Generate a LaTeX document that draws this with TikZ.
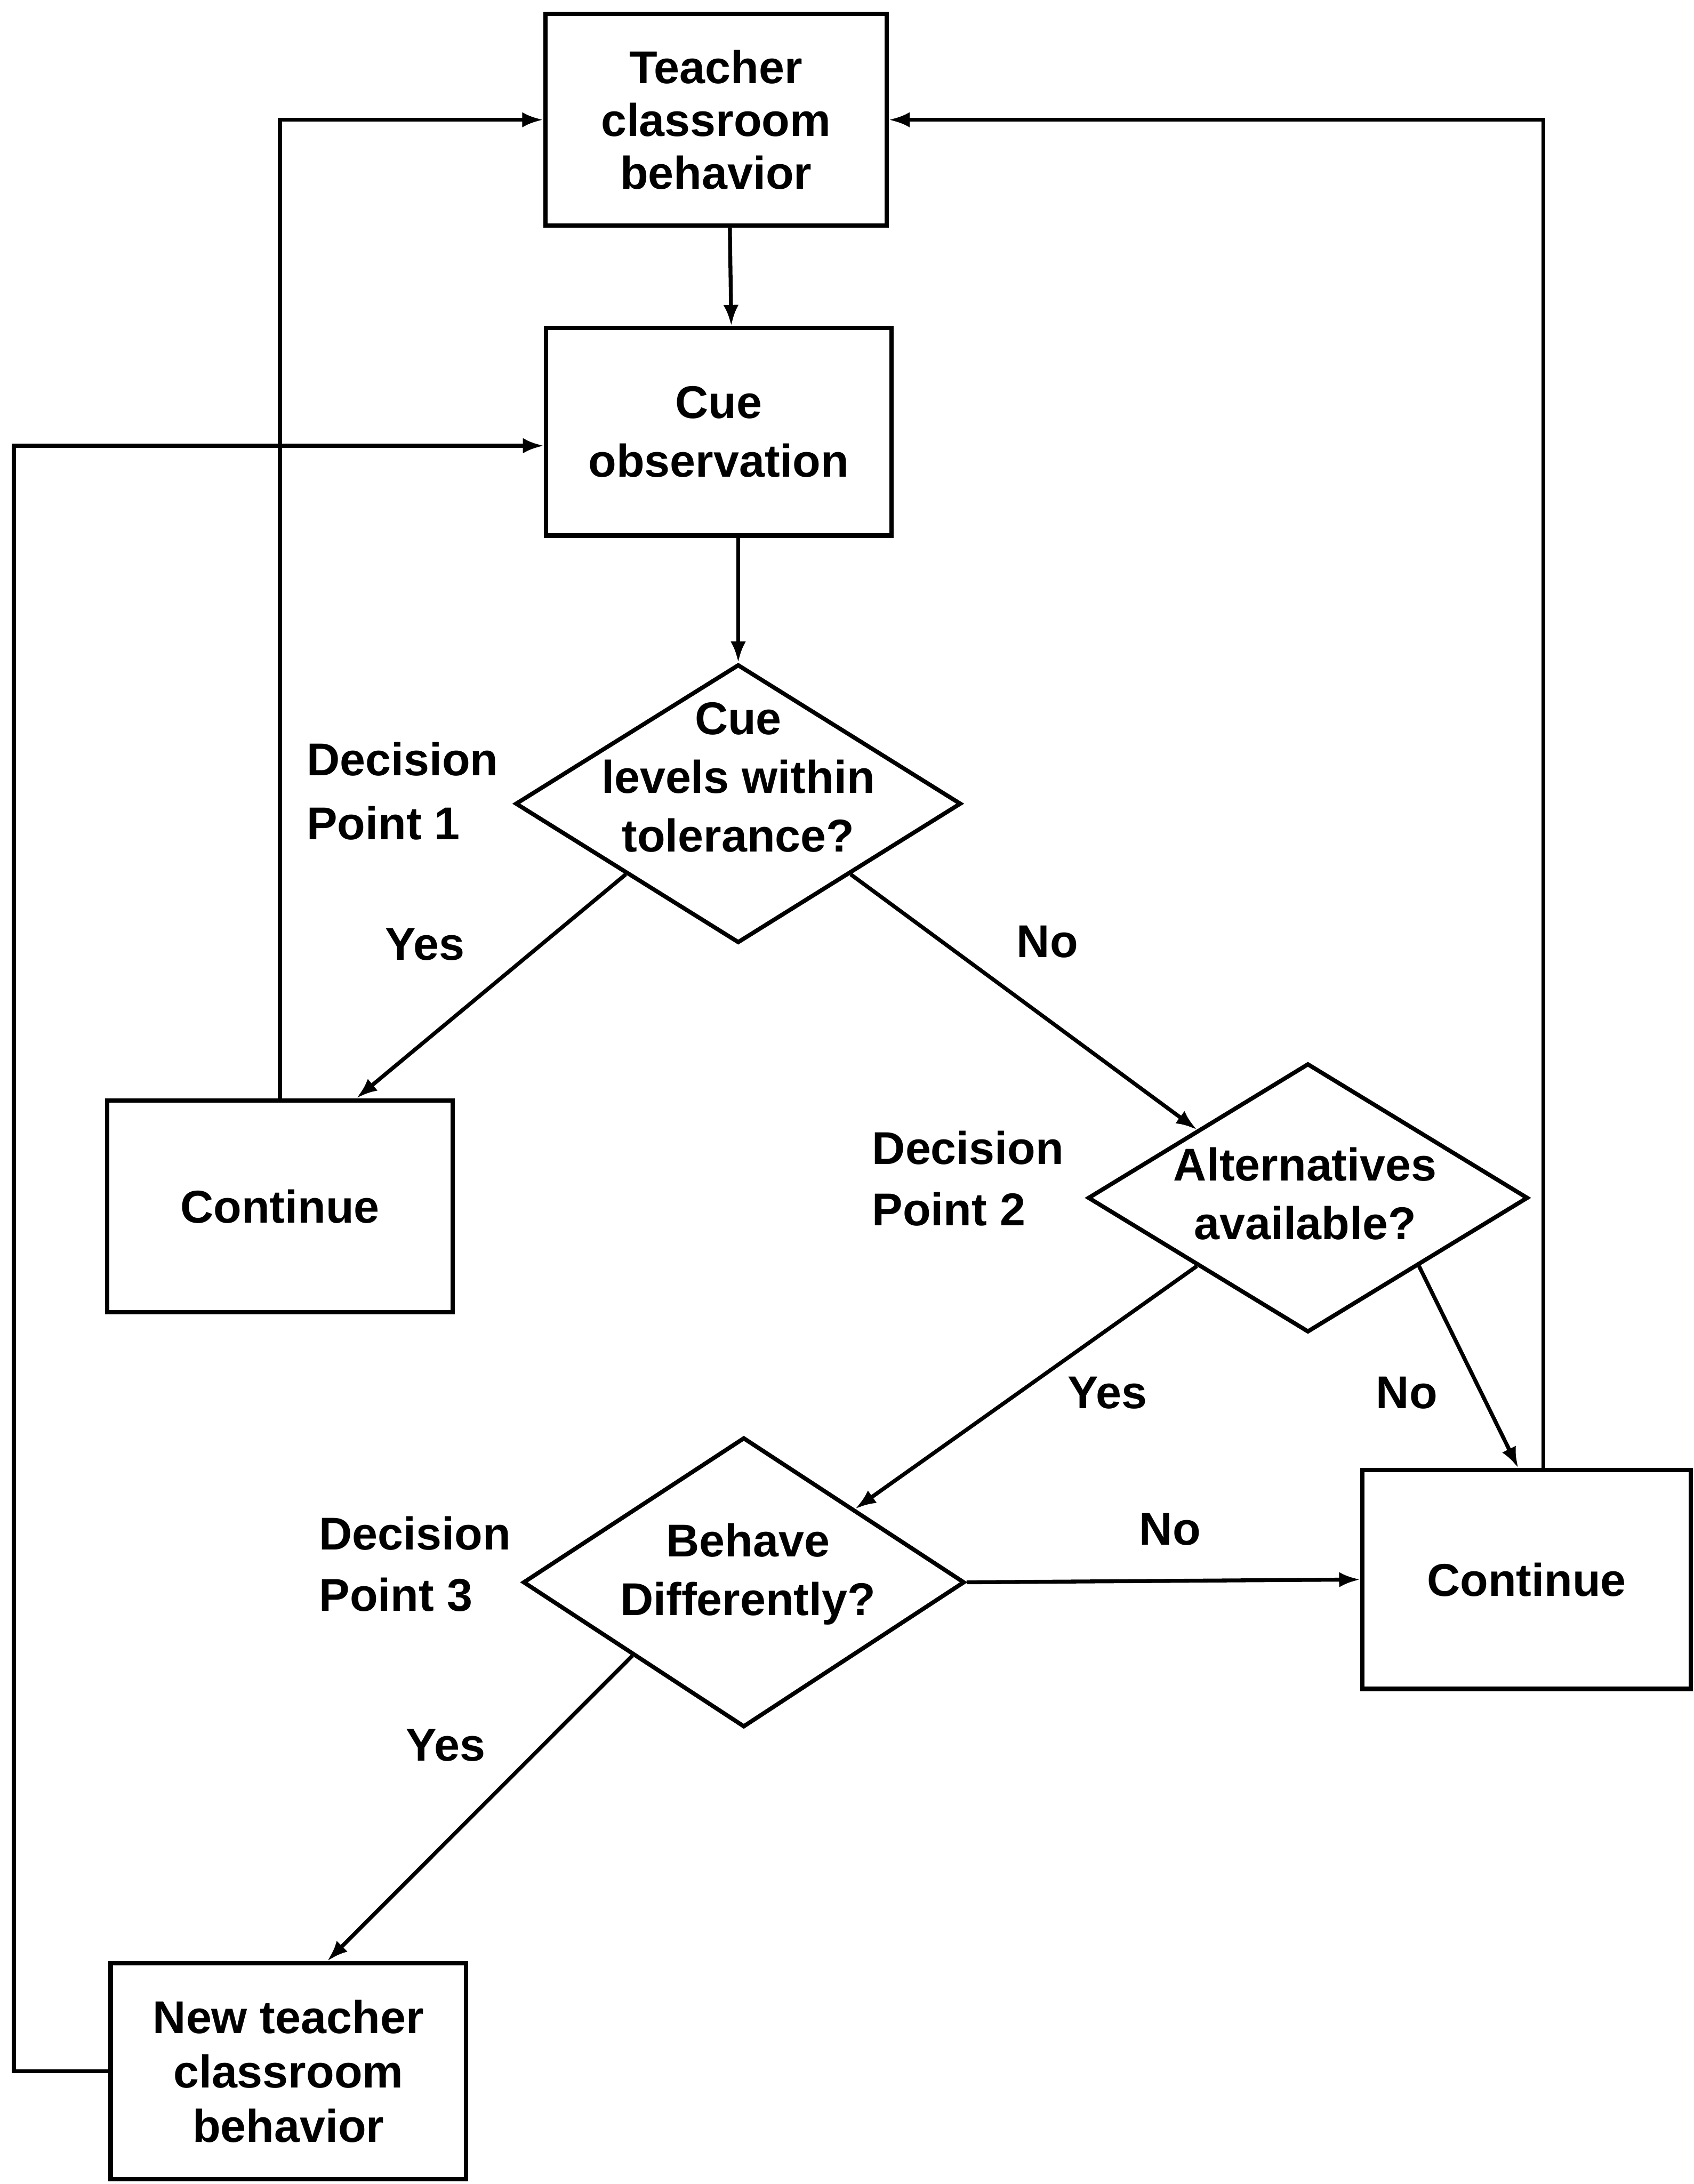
\documentclass[tikz,border=0pt]{standalone}
\usepackage{fontspec}
\setmainfont{Liberation Sans}
\usetikzlibrary{shapes.geometric, arrows.meta, positioning}

\begin{document}
\begin{tikzpicture}[x=1pt, y=-1pt,
  every node/.style={font=\bfseries\fontsize{33}{42}\selectfont, align=center},
  procbox/.style={draw, line width=3.2pt, minimum width=248pt, minimum height=152pt, inner sep=0pt},
  decision/.style={draw, diamond, line width=3pt, inner sep=0pt},
  dplabel/.style={anchor=west, align=left, inner sep=0pt},
  answer/.style={inner sep=0pt},
  flow/.style={line width=2.8pt, -{Latex[length=15pt, width=11pt]}},
  ]
  \useasboundingbox (0,0) rectangle (1216,1568);

  % Boxes
  \node[procbox, minimum width=245pt, font=\bfseries\fontsize{33}{38}\selectfont] (tb) at (514,86) {Teacher\\classroom\\behavior};
  \node[procbox, minimum height=149pt] (co) at (516,310) {Cue\\observation};
  \node[procbox] (c1) at (201,866) {Continue};
  \node[procbox, minimum width=236pt, minimum height=157pt] (c2) at (1096,1134) {Continue};
  \node[procbox, minimum width=255pt, minimum height=155pt, font=\bfseries\fontsize{33}{39}\selectfont] (nb) at (207,1487) {New teacher\\classroom\\behavior};

  % Decisions
  \node[decision, minimum width=320pt, minimum height=200pt] (d1) at (530,577) {};
  \node[answer] (d1txt) at (530,558) {Cue\\levels within\\tolerance?};
  \node[decision, minimum width=316pt, minimum height=193pt] (d2) at (939,860) {};
  \node[answer] (d2txt) at (937,857) {Alternatives\\available?};
  \node[decision, minimum width=317pt, minimum height=208pt] (d3) at (534,1136) {};
  \node[answer] (d3txt) at (537,1130) {Behave\\Differently?};

  % Labels
  \node[dplabel, font=\bfseries\fontsize{33}{46}\selectfont] (dp1) at (220,568) {Decision\\Point 1};
  \node[dplabel, font=\bfseries\fontsize{33}{44}\selectfont] (dp2) at (626,846) {Decision\\Point 2};
  \node[dplabel, font=\bfseries\fontsize{33}{44}\selectfont] (dp3) at (229,1123) {Decision\\Point 3};
  \node[answer] (y1) at (305,678) {Yes};
  \node[answer] (n1) at (752,676) {No};
  \node[answer] (y2) at (795,1000) {Yes};
  \node[answer] (n2) at (1010,1000) {No};
  \node[answer] (n3) at (840,1098) {No};
  \node[answer] (y3) at (320,1253) {Yes};

  % Main flow
  \draw[flow] ([xshift=10pt]tb.south) -- ([xshift=9pt]co.north);
  \draw[flow] (d1.north |- co.south) -- (d1.north);
  \draw[flow] (d1.south west) -- ([xshift=55pt]c1.north);
  \draw[flow] (d1.south east) -- (d2.north west);
  \draw[flow] (d2.south west) -- (d3.north east);
  \draw[flow] (d2.south east) -- ([xshift=-6pt]c2.north);
  \draw[flow] (d3.east) -- (c2.west);
  \draw[flow] (d3.south west) -- ([xshift=28pt]nb.north);

  % Feedback loops
  \draw[flow] (c1.north) |- (tb.west);
  \draw[flow] ([xshift=12pt]c2.north) |- (tb.east);
  \draw[flow] (nb.west) -- ++(-68,0) |- ([yshift=-10pt]co.west);
\end{tikzpicture}
\end{document}
